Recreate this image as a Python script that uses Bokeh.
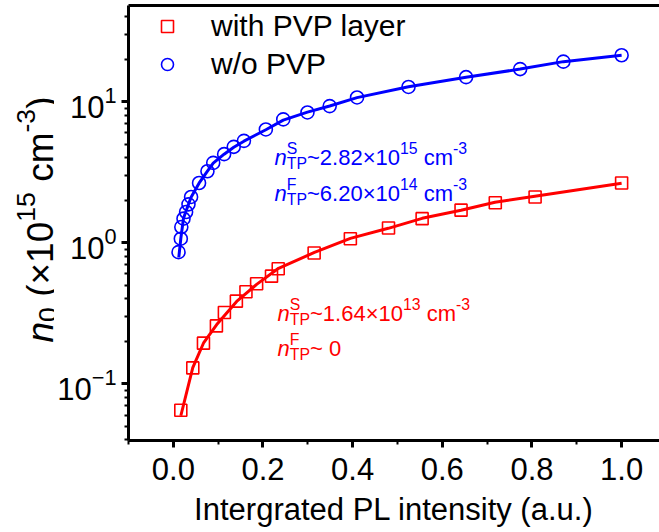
import math
from bokeh.plotting import figure
from bokeh.layouts import row
from bokeh.models import (Label, Legend, LegendItem, LinearAxis, FixedTicker,
                          SingleIntervalTicker, PrintfTickFormatter, Range1d)
from bokeh.embed import file_html
from bokeh.resources import INLINE

# ---------------- data ----------------
pl_pvp = [0.0167, 0.0434, 0.0672, 0.0961, 0.1139, 0.1406, 0.162, 0.1858, 0.219,
          0.234, 0.3141, 0.3949, 0.480, 0.555, 0.6418, 0.7182, 0.807, 1.0]
n0_pvp = [0.0649, 0.1295, 0.194, 0.257, 0.320, 0.385, 0.449, 0.512, 0.579,
          0.653, 0.844, 1.067, 1.27, 1.48, 1.70, 1.92, 2.11, 2.65]

pl_nopvp = [0.0116, 0.0167, 0.0178, 0.0227, 0.0285, 0.0338, 0.0396, 0.0574, 0.0761,
            0.089, 0.1133, 0.1348, 0.1575, 0.2064, 0.2452, 0.2992, 0.3488, 0.4098,
            0.5246, 0.653, 0.7737, 0.870, 1.0]
n0_nopvp = [0.857, 1.067, 1.29, 1.48, 1.65, 1.87, 2.11, 2.65, 3.21,
            3.68, 4.24, 4.78, 5.27, 6.35, 7.48, 8.38, 9.29, 10.7,
            12.7, 14.9, 17.0, 19.2, 21.3]

fit_pvp_x = [0.0167, 0.0434, 0.0679, 0.0968, 0.1413, 0.1858, 0.2347, 0.3148, 0.3949,
             0.4794, 0.5551, 0.6418, 0.7175, 0.8065, 1.0]
fit_pvp_y = [0.0593, 0.130, 0.196, 0.263, 0.383, 0.506, 0.658, 0.853, 1.073,
             1.264, 1.488, 1.696, 1.932, 2.132, 2.637]

fit_nopvp_x = [0.0122, 0.0167, 0.0227, 0.0338, 0.0396, 0.0574, 0.0761, 0.089, 0.1133,
               0.1348, 0.1575, 0.2064, 0.2452, 0.2992, 0.3488, 0.4098, 0.5246, 0.653,
               0.7737, 0.870, 1.0]
fit_nopvp_y = [0.787, 1.07, 1.49, 1.87, 2.10, 2.64, 3.21, 3.66, 4.24,
               4.75, 5.24, 6.32, 7.39, 8.42, 9.3, 10.67, 12.75, 14.9,
               17.0, 19.2, 21.3]

series_labels = ["with PVP layer", "w/o PVP"]
x_label = "Intergrated PL intensity (a.u.)"

FONT = "Liberation Sans"
RED = "#ff0000"
BLUE = "#0000ff"

# ---------------- layout geometry (page px) ----------------
H = 530            # canvas height of both figures
LAB_W = 54         # width of the strip holding the y-axis title
FRAME_LEFT = 127   # page x of the main frame's left edge
FRAME_TOP = 5
FRAME_BOTTOM = 440

# ---------------- y-title strip ----------------
p_lab = figure(width=LAB_W, height=H, x_range=Range1d(0, 1), y_range=Range1d(0, 1),
               output_backend="svg", toolbar_location=None, min_border=0,
               min_border_top=FRAME_TOP, min_border_bottom=H - FRAME_BOTTOM)
p_lab.axis.visible = False
p_lab.grid.visible = False
p_lab.outline_line_color = None

# ---------------- main figure ----------------
p = figure(width=659 - LAB_W, height=H,
           x_range=Range1d(-0.1, 1.0845), y_range=Range1d(0.0396, 48),
           y_axis_type="log", output_backend="svg", toolbar_location=None,
           min_border_left=FRAME_LEFT - LAB_W, min_border_right=0,
           min_border_top=FRAME_TOP, min_border_bottom=H - FRAME_BOTTOM)
p.grid.visible = False
p.outline_line_color = None
p.background_fill_color = "white"

for ax in (p.xaxis[0], p.yaxis[0]):
    ax.axis_line_width = 3
    ax.major_tick_line_width = 3
    ax.minor_tick_line_width = 2
    ax.major_tick_out = 7
    ax.major_tick_in = 0
    ax.minor_tick_out = 4
    ax.minor_tick_in = 0
    ax.major_label_text_font = FONT
    ax.major_label_text_font_size = "31px"
    ax.major_label_text_color = "black"

p.xaxis[0].ticker = SingleIntervalTicker(interval=0.2, num_minor_ticks=2)
p.xaxis[0].formatter = PrintfTickFormatter(format="%.1f")
p.xaxis[0].major_label_standoff = 10
p.xaxis[0].axis_label = x_label
p.xaxis[0].axis_label_text_font = FONT
p.xaxis[0].axis_label_text_font_size = "31px"
p.xaxis[0].axis_label_text_font_style = "normal"
p.xaxis[0].axis_label_text_color = "black"
p.xaxis[0].axis_label_standoff = 9
p.yaxis[0].major_label_standoff = 5

top = LinearAxis(ticker=FixedTicker(ticks=[]), axis_line_width=3,
                 major_tick_out=0, major_tick_in=0, minor_tick_out=0, minor_tick_in=0,
                 major_label_standoff=0, major_label_text_font_size="1px")
p.add_layout(top, "above")

# ---------------- data marks ----------------
p.line(fit_pvp_x, fit_pvp_y, line_color=RED, line_width=3)
p.line(fit_nopvp_x, fit_nopvp_y, line_color=BLUE, line_width=3)
r_sq = p.scatter(pl_pvp, n0_pvp, marker="square", size=12, fill_color=None,
                 line_color=RED, line_width=1.6)
r_ci = p.scatter(pl_nopvp, n0_nopvp, marker="circle", size=13, fill_color=None,
                 line_color=BLUE, line_width=1.6)

legend = Legend(items=[LegendItem(label=series_labels[0], renderers=[r_sq]),
                       LegendItem(label=series_labels[1], renderers=[r_ci])],
                location="top_left", margin=3, padding=0, spacing=3,
                glyph_width=72, glyph_height=30, label_height=35,
                label_standoff=8, border_line_color=None,
                background_fill_alpha=0, label_text_color="black",
                label_text_font=FONT, label_text_font_size="30px")
p.add_layout(legend)

# ---------------- rich text helper ----------------
W = {'n': 556, '0': 556, '1': 556, '2': 556, '3': 556, '4': 556, '5': 556,
     '6': 556, '8': 556, '.': 278, '~': 584, '\u00d7': 584, ' ': 278, 'c': 500,
     'm': 833, '-': 333, 'T': 611, 'P': 667, 'S': 667, 'F': 611, '(': 333, ')': 333}


def tw(text, size):
    return sum(W.get(ch, 556) for ch in text) / 1000.0 * size


def rich(fig, fleft, fbottom, groups, cx, cy, size, color, angle=0.0,
         scale=0.72, sub=0.27, sup=0.41):
    sx0 = cx - fleft
    sy0 = fbottom - cy
    pos = 0.0
    for group in groups:
        adv = 0.0
        for text, kind, italic in group:
            s = size if kind == "n" else size * scale
            lead = len(text) - len(text.lstrip(" "))
            lead_w = tw(" " * lead, s)
            body = text.lstrip(" ")
            shift = {"n": 0.0, "sub": -sub * size, "sup": sup * size}[kind]
            if angle == 0:
                x, y = sx0 + pos + lead_w, sy0 + shift
            else:
                x, y = sx0 - shift, sy0 + pos + lead_w
            fig.add_layout(Label(x=x, y=y, x_units="screen", y_units="screen",
                                 text=body, angle=angle, text_font=FONT,
                                 text_font_size=f"{s:.1f}px",
                                 text_font_style="italic" if italic else "normal",
                                 text_color=color, text_align="left",
                                 text_baseline="alphabetic"))
            adv = max(adv, tw(text, s))
        pos += adv


# y-axis title  n0 (x10^15 cm^-3), drawn in the left strip (frame aligned with p)
rich(p_lab, 0, FRAME_BOTTOM,
     [[("n", "n", True)], [("0", "sub", False)], [(" (\u00d710", "n", False)],
      [("15", "sup", False)], [(" cm", "n", False)], [("-3", "sup", False)],
      [(")", "n", False)]],
     40, 342, 37, "black", angle=math.pi / 2, sub=0.2, sup=0.4)

# annotations in the plot
rich(p, FRAME_LEFT, FRAME_BOTTOM,
     [[("n", "n", True)], [("TP", "sub", False), ("S", "sup", False)],
      [("~2.82\u00d710", "n", False)], [("15", "sup", False)],
      [(" cm", "n", False)], [("-3", "sup", False)]], 273, 157, 22, BLUE)
rich(p, FRAME_LEFT, FRAME_BOTTOM,
     [[("n", "n", True)], [("TP", "sub", False), ("F", "sup", False)],
      [("~6.20\u00d710", "n", False)], [("14", "sup", False)],
      [(" cm", "n", False)], [("-3", "sup", False)]], 273, 193, 22, BLUE)
rich(p, FRAME_LEFT, FRAME_BOTTOM,
     [[("n", "n", True)], [("TP", "sub", False), ("S", "sup", False)],
      [("~1.64\u00d710", "n", False)], [("13", "sup", False)],
      [(" cm", "n", False)], [("-3", "sup", False)]], 276, 313, 22, RED)
rich(p, FRAME_LEFT, FRAME_BOTTOM,
     [[("n", "n", True)], [("TP", "sub", False), ("F", "sup", False)],
      [("~ 0", "n", False)]], 276, 348, 22, RED)

layout = row(p_lab, p, spacing=0)
open("out.html", "w").write(file_html(layout, INLINE))
